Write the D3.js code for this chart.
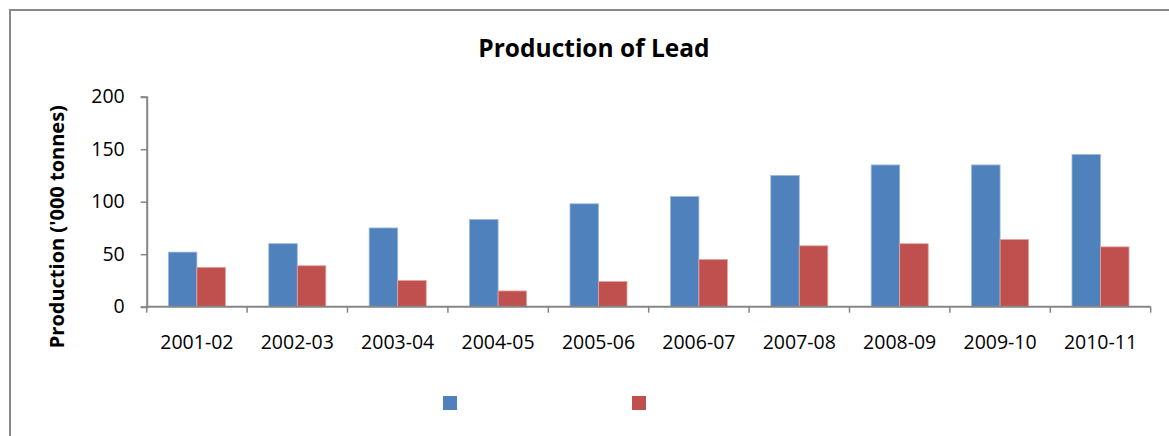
<!DOCTYPE html>
<html>
<head>
<meta charset="utf-8">
<script src="https://cdn.jsdelivr.net/npm/d3@7"></script>
<style>
  html, body { margin: 0; padding: 0; background: #fff; }
  svg { display: block; }
  text { font-family: "Open Sans", "DejaVu Sans", sans-serif; fill: #000; }
</style>
</head>
<body>
<svg id="chart" width="1169" height="436"></svg>
<script>
// ---- data ----
const categories = ["2001-02","2002-03","2003-04","2004-05","2005-06","2006-07","2007-08","2008-09","2009-10","2010-11"];
const seriesNames = ["Series A", "Series B"];
const seriesA = [52, 60, 75, 83, 98, 105, 125, 135, 135, 145];
const seriesB = [37.5, 39, 25, 15, 24, 45, 58, 60, 64, 57];
const yTicks = [0, 50, 100, 150, 200];
const titleText = "Production of Lead";
const yLabelText = "Production ('000 tonnes)";
const colors = ["#4F81BD", "#C0504D"];
const strokeColors = ["#9DB9DC", "#E3A3A1"];

const svg = d3.select("#chart");
const W = 1169, H = 436;

// outer border (cut off at right/bottom as in reference)
svg.append("rect")
  .attr("x", 10).attr("y", 10).attr("width", W + 20).attr("height", H + 20)
  .attr("fill", "#fff").attr("stroke", "#898989").attr("stroke-width", 2);

const x0 = 146.7, x1r = 1150.7, yBase = 306.7, yTop = 96.7;

const x = d3.scaleBand().domain(categories).range([x0, x1r]).paddingInner(0).paddingOuter(0);
const xs = d3.scaleBand().domain(seriesNames).range([0, x.bandwidth()]).paddingInner(0).paddingOuter(0.76);
const y = d3.scaleLinear().domain([0, 200]).range([yBase, yTop]);

// title
svg.append("text")
  .attr("x", 594).attr("y", 57)
  .attr("text-anchor", "middle")
  .attr("font-weight", "bold")
  .attr("font-size", "24.5px")
  .text(titleText);

// y label
svg.append("text")
  .attr("transform", `translate(64,${(yBase + yTop) / 2 + 25}) rotate(-90)`)
  .attr("text-anchor", "middle")
  .attr("font-weight", "bold")
  .attr("font-size", "20px")
  .text(yLabelText);

// bars
const data = categories.map((c, i) => ({ c, vals: [seriesA[i], seriesB[i]] }));
const groups = svg.append("g").selectAll("g").data(data).join("g")
  .attr("transform", d => `translate(${x(d.c)},0)`);
groups.selectAll("rect")
  .data(d => d.vals.map((v, j) => ({ v, s: seriesNames[j], j })))
  .join("rect")
  .attr("x", d => xs(d.s))
  .attr("y", d => y(d.v))
  .attr("width", xs.bandwidth())
  .attr("height", d => yBase - y(d.v))
  .attr("fill", d => colors[d.j])
  .attr("stroke", d => strokeColors[d.j])
  .attr("stroke-width", 0.8);

// y axis
const yAxis = d3.axisLeft(y).tickValues(yTicks).tickSize(6).tickPadding(16);
const gy = svg.append("g").attr("transform", `translate(${x0},0)`).call(yAxis);
gy.select(".domain").attr("stroke", "#868686").attr("stroke-width", 2);
gy.selectAll(".tick line").attr("stroke", "#868686").attr("stroke-width", 1.5);
gy.selectAll(".tick text").attr("font-size", "19.5px").attr("font-family", "Open Sans").attr("fill", "#000");

// x axis
const xTickScale = d3.scaleLinear().domain([0, categories.length]).range([x0, x1r]);
const gx = svg.append("g").attr("transform", `translate(0,${yBase})`);
gx.append("line").attr("x1", x0).attr("x2", x1r).attr("y1", 0).attr("y2", 0)
  .attr("stroke", "#868686").attr("stroke-width", 2);
gx.selectAll("line.t").data(d3.range(categories.length + 1)).join("line")
  .attr("class", "t")
  .attr("x1", d => xTickScale(d)).attr("x2", d => xTickScale(d))
  .attr("y1", 0).attr("y2", 6)
  .attr("stroke", "#868686").attr("stroke-width", 1.5);
gx.selectAll("text").data(categories).join("text")
  .attr("x", d => x(d) + x.bandwidth() / 2)
  .attr("y", 42)
  .attr("text-anchor", "middle")
  .attr("font-size", "19.5px")
  .text(d => d);

// legend (swatches only, as in reference)
const legendX = [443, 632];
svg.append("g").selectAll("rect").data(seriesNames).join("rect")
  .attr("x", (d, i) => legendX[i])
  .attr("y", 396)
  .attr("width", 14).attr("height", 14)
  .attr("fill", (d, i) => colors[i]);
</script>
</body>
</html>
